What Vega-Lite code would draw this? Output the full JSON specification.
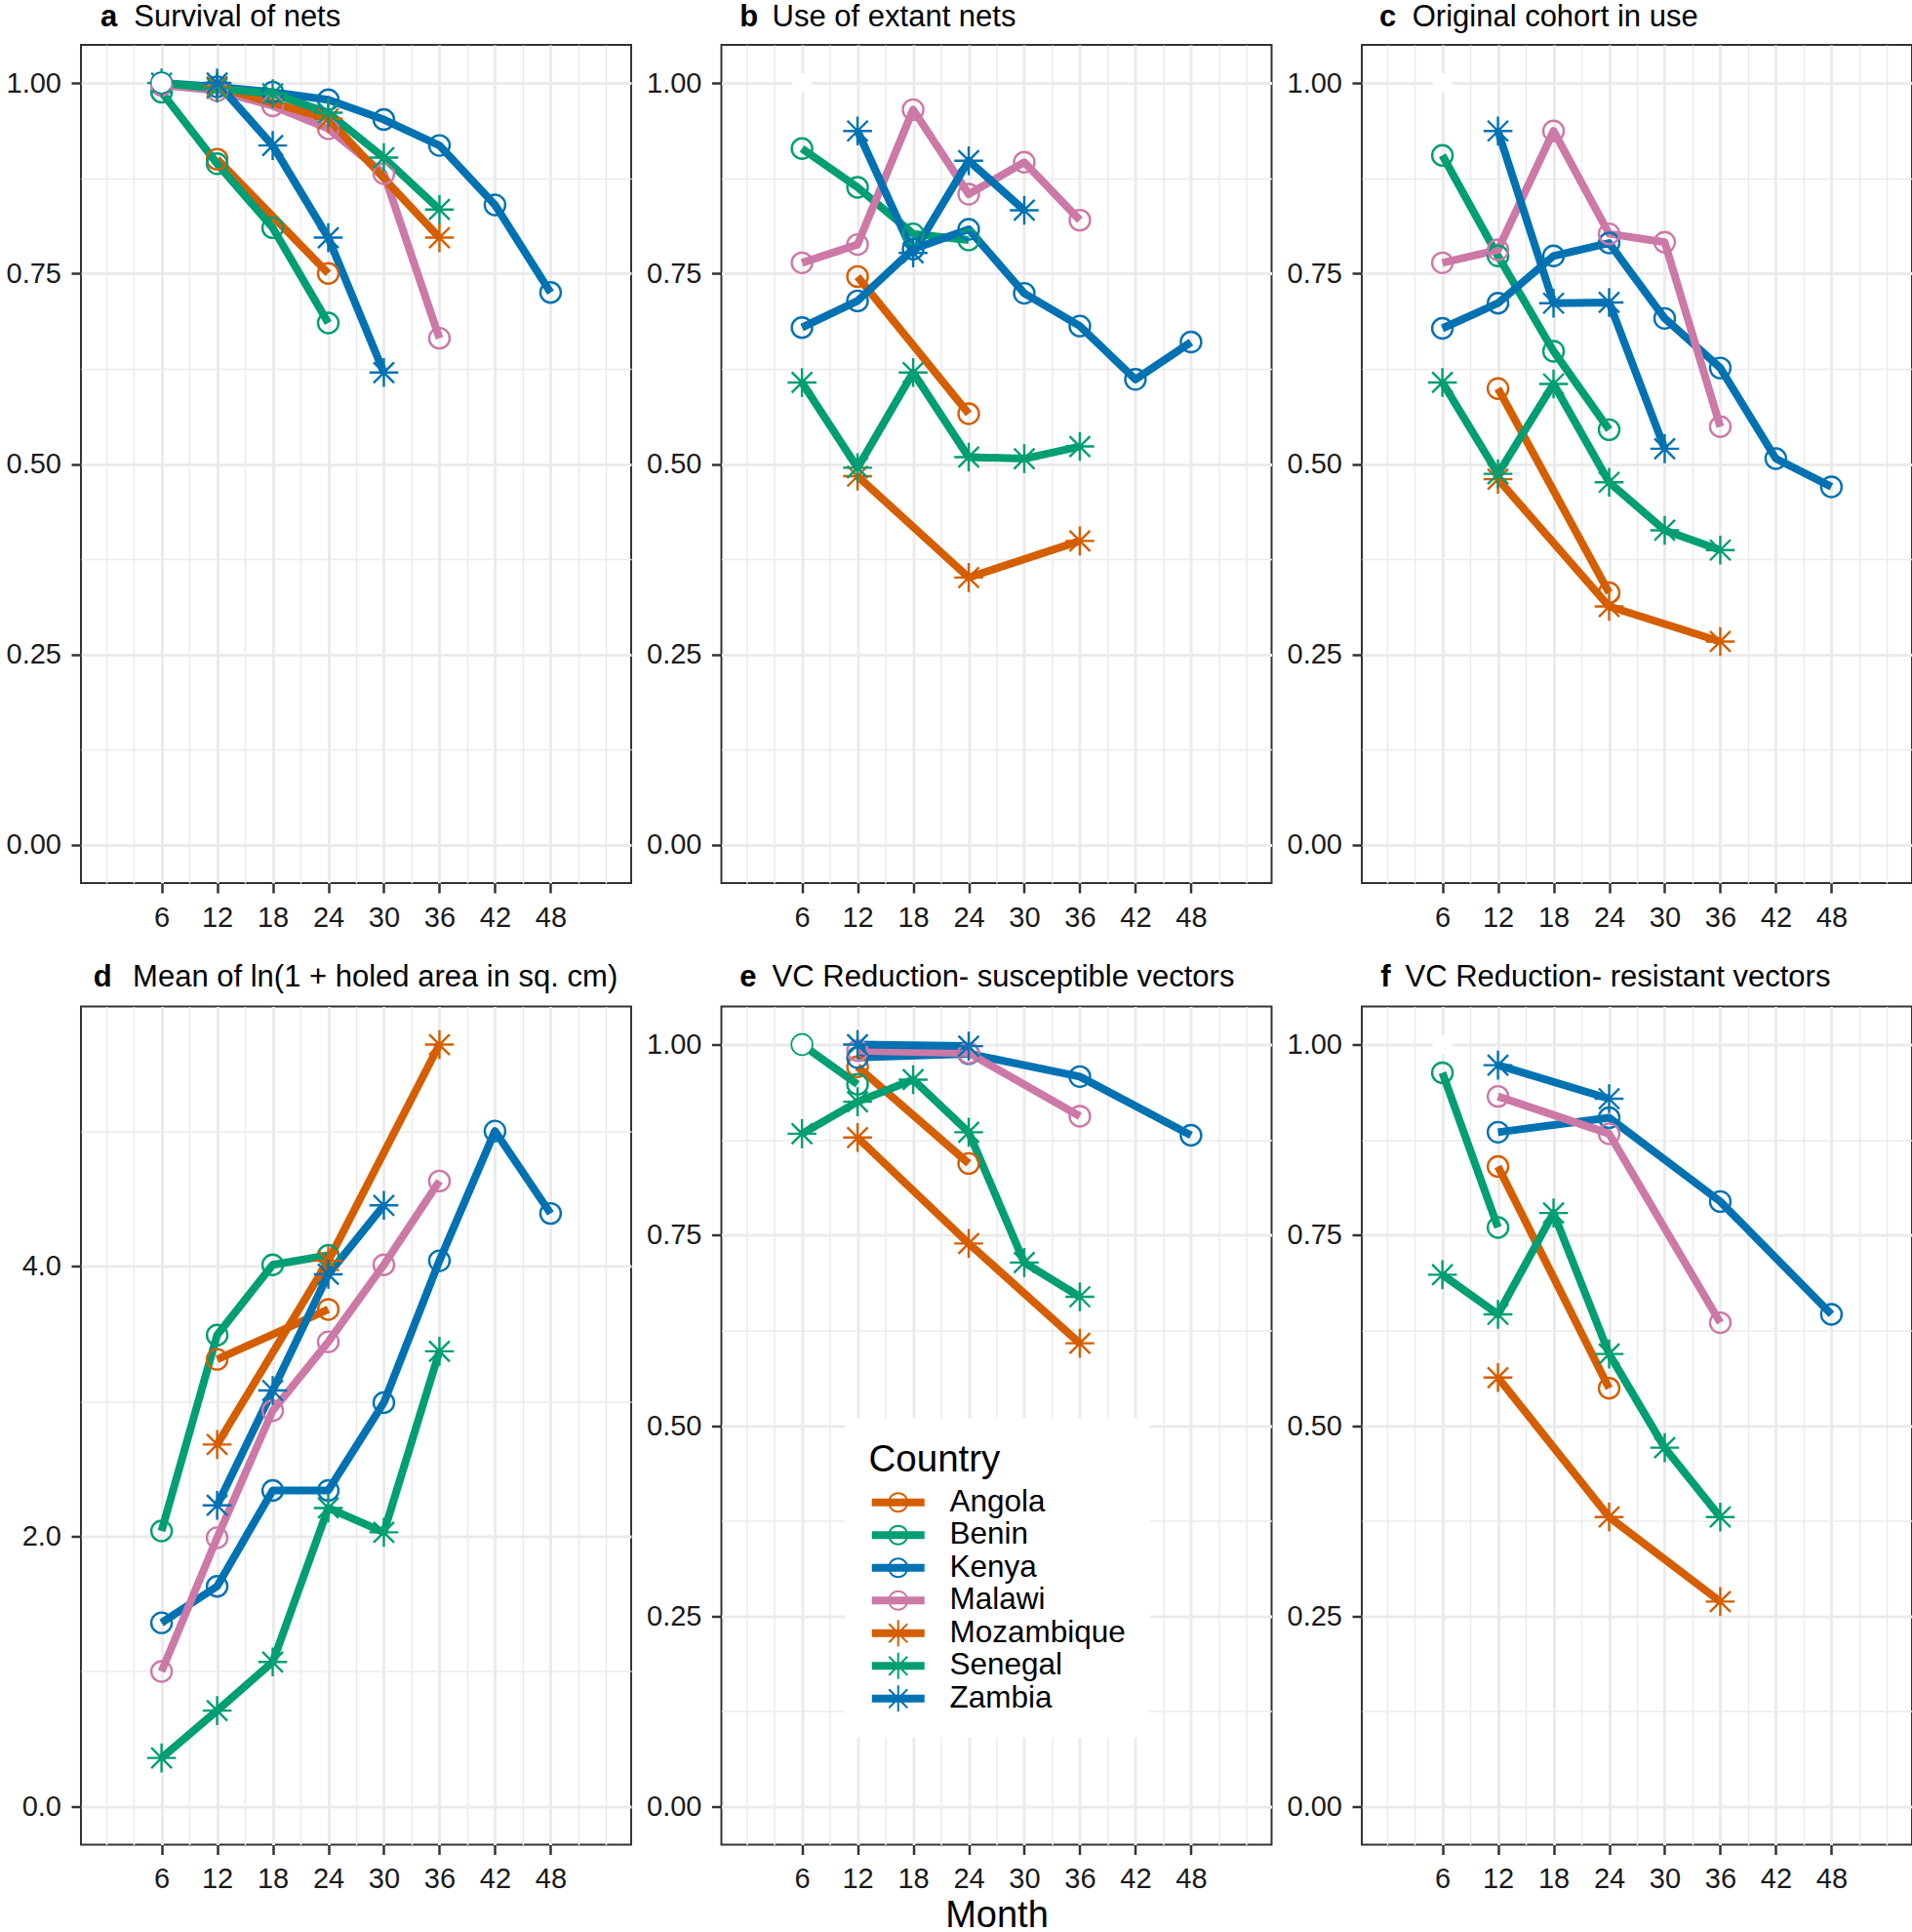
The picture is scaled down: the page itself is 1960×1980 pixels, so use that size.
{
  "$schema": "https://vega.github.io/schema/vega-lite/v6.json",
  "padding": {"left": 5, "top": 0, "right": 0, "bottom": 0},
  "config": {
    "font": "Liberation Sans",
    "view": {"stroke": "#333333", "strokeWidth": 2},
    "axis": {"labelFont": "Liberation Sans", "labelFontSize": 29, "labelColor": "#1A1A1A", "tickColor": "#333333", "tickWidth": 2.5, "tickSize": 10, "domain": false, "gridColor": "#EBEBEB", "titleFont": "Liberation Sans", "titleFontWeight": "normal", "titleColor": "black"},
    "axisX": {"labelPadding": 11},
    "axisY": {"labelPadding": 10.5}
  },
  "datasets": {
    "d": [
      {"Panel":"a","Country":"Angola","Month":12,"Value":0.900},{"Panel":"a","Country":"Angola","Month":24,"Value":0.750},
      {"Panel":"a","Country":"Benin","Month":6,"Value":0.988},{"Panel":"a","Country":"Benin","Month":12,"Value":0.894},{"Panel":"a","Country":"Benin","Month":18,"Value":0.810},{"Panel":"a","Country":"Benin","Month":24,"Value":0.685},
      {"Panel":"a","Country":"Kenya","Month":6,"Value":1.000},{"Panel":"a","Country":"Kenya","Month":12,"Value":0.995},{"Panel":"a","Country":"Kenya","Month":18,"Value":0.988},{"Panel":"a","Country":"Kenya","Month":24,"Value":0.978},{"Panel":"a","Country":"Kenya","Month":30,"Value":0.952},{"Panel":"a","Country":"Kenya","Month":36,"Value":0.918},{"Panel":"a","Country":"Kenya","Month":42,"Value":0.840},{"Panel":"a","Country":"Kenya","Month":48,"Value":0.725},
      {"Panel":"a","Country":"Malawi","Month":6,"Value":0.997},{"Panel":"a","Country":"Malawi","Month":12,"Value":0.990},{"Panel":"a","Country":"Malawi","Month":18,"Value":0.970},{"Panel":"a","Country":"Malawi","Month":24,"Value":0.940},{"Panel":"a","Country":"Malawi","Month":30,"Value":0.881},{"Panel":"a","Country":"Malawi","Month":36,"Value":0.665},
      {"Panel":"a","Country":"Mozambique","Month":12,"Value":0.995},{"Panel":"a","Country":"Mozambique","Month":24,"Value":0.953},{"Panel":"a","Country":"Mozambique","Month":36,"Value":0.797},
      {"Panel":"a","Country":"Senegal","Month":6,"Value":1.000},{"Panel":"a","Country":"Senegal","Month":12,"Value":0.993},{"Panel":"a","Country":"Senegal","Month":18,"Value":0.986},{"Panel":"a","Country":"Senegal","Month":24,"Value":0.961},{"Panel":"a","Country":"Senegal","Month":30,"Value":0.902},{"Panel":"a","Country":"Senegal","Month":36,"Value":0.834},
      {"Panel":"a","Country":"Zambia","Month":12,"Value":1.000},{"Panel":"a","Country":"Zambia","Month":18,"Value":0.918},{"Panel":"a","Country":"Zambia","Month":24,"Value":0.797},{"Panel":"a","Country":"Zambia","Month":30,"Value":0.620},

      {"Panel":"b","Country":"Angola","Month":12,"Value":0.746},{"Panel":"b","Country":"Angola","Month":24,"Value":0.566},
      {"Panel":"b","Country":"Benin","Month":6,"Value":0.914},{"Panel":"b","Country":"Benin","Month":12,"Value":0.863},{"Panel":"b","Country":"Benin","Month":18,"Value":0.802},{"Panel":"b","Country":"Benin","Month":24,"Value":0.794},
      {"Panel":"b","Country":"Kenya","Month":6,"Value":0.679},{"Panel":"b","Country":"Kenya","Month":12,"Value":0.714},{"Panel":"b","Country":"Kenya","Month":18,"Value":0.782},{"Panel":"b","Country":"Kenya","Month":24,"Value":0.808},{"Panel":"b","Country":"Kenya","Month":30,"Value":0.724},{"Panel":"b","Country":"Kenya","Month":36,"Value":0.681},{"Panel":"b","Country":"Kenya","Month":42,"Value":0.611},{"Panel":"b","Country":"Kenya","Month":48,"Value":0.660},
      {"Panel":"b","Country":"Malawi","Month":6,"Value":0.764},{"Panel":"b","Country":"Malawi","Month":12,"Value":0.788},{"Panel":"b","Country":"Malawi","Month":18,"Value":0.965},{"Panel":"b","Country":"Malawi","Month":24,"Value":0.854},{"Panel":"b","Country":"Malawi","Month":30,"Value":0.896},{"Panel":"b","Country":"Malawi","Month":36,"Value":0.820},
      {"Panel":"b","Country":"Mozambique","Month":12,"Value":0.484},{"Panel":"b","Country":"Mozambique","Month":24,"Value":0.351},{"Panel":"b","Country":"Mozambique","Month":36,"Value":0.399},
      {"Panel":"b","Country":"Senegal","Month":6,"Value":0.607},{"Panel":"b","Country":"Senegal","Month":12,"Value":0.495},{"Panel":"b","Country":"Senegal","Month":18,"Value":0.620},{"Panel":"b","Country":"Senegal","Month":24,"Value":0.509},{"Panel":"b","Country":"Senegal","Month":30,"Value":0.507},{"Panel":"b","Country":"Senegal","Month":36,"Value":0.523},
      {"Panel":"b","Country":"Zambia","Month":12,"Value":0.937},{"Panel":"b","Country":"Zambia","Month":18,"Value":0.777},{"Panel":"b","Country":"Zambia","Month":24,"Value":0.898},{"Panel":"b","Country":"Zambia","Month":30,"Value":0.833},

      {"Panel":"c","Country":"Angola","Month":12,"Value":0.599},{"Panel":"c","Country":"Angola","Month":24,"Value":0.331},
      {"Panel":"c","Country":"Benin","Month":6,"Value":0.905},{"Panel":"c","Country":"Benin","Month":12,"Value":0.773},{"Panel":"c","Country":"Benin","Month":18,"Value":0.648},{"Panel":"c","Country":"Benin","Month":24,"Value":0.545},
      {"Panel":"c","Country":"Kenya","Month":6,"Value":0.678},{"Panel":"c","Country":"Kenya","Month":12,"Value":0.711},{"Panel":"c","Country":"Kenya","Month":18,"Value":0.773},{"Panel":"c","Country":"Kenya","Month":24,"Value":0.790},{"Panel":"c","Country":"Kenya","Month":30,"Value":0.691},{"Panel":"c","Country":"Kenya","Month":36,"Value":0.626},{"Panel":"c","Country":"Kenya","Month":42,"Value":0.507},{"Panel":"c","Country":"Kenya","Month":48,"Value":0.470},
      {"Panel":"c","Country":"Malawi","Month":6,"Value":0.764},{"Panel":"c","Country":"Malawi","Month":12,"Value":0.781},{"Panel":"c","Country":"Malawi","Month":18,"Value":0.937},{"Panel":"c","Country":"Malawi","Month":24,"Value":0.802},{"Panel":"c","Country":"Malawi","Month":30,"Value":0.791},{"Panel":"c","Country":"Malawi","Month":36,"Value":0.549},
      {"Panel":"c","Country":"Mozambique","Month":12,"Value":0.480},{"Panel":"c","Country":"Mozambique","Month":24,"Value":0.313},{"Panel":"c","Country":"Mozambique","Month":36,"Value":0.267},
      {"Panel":"c","Country":"Senegal","Month":6,"Value":0.607},{"Panel":"c","Country":"Senegal","Month":12,"Value":0.487},{"Panel":"c","Country":"Senegal","Month":18,"Value":0.605},{"Panel":"c","Country":"Senegal","Month":24,"Value":0.476},{"Panel":"c","Country":"Senegal","Month":30,"Value":0.413},{"Panel":"c","Country":"Senegal","Month":36,"Value":0.387},
      {"Panel":"c","Country":"Zambia","Month":12,"Value":0.937},{"Panel":"c","Country":"Zambia","Month":18,"Value":0.711},{"Panel":"c","Country":"Zambia","Month":24,"Value":0.712},{"Panel":"c","Country":"Zambia","Month":30,"Value":0.520},

      {"Panel":"d","Country":"Angola","Month":12,"Value":3.31},{"Panel":"d","Country":"Angola","Month":24,"Value":3.68},
      {"Panel":"d","Country":"Benin","Month":6,"Value":2.04},{"Panel":"d","Country":"Benin","Month":12,"Value":3.49},{"Panel":"d","Country":"Benin","Month":18,"Value":4.01},{"Panel":"d","Country":"Benin","Month":24,"Value":4.08},
      {"Panel":"d","Country":"Kenya","Month":6,"Value":1.36},{"Panel":"d","Country":"Kenya","Month":12,"Value":1.63},{"Panel":"d","Country":"Kenya","Month":18,"Value":2.34},{"Panel":"d","Country":"Kenya","Month":24,"Value":2.34},{"Panel":"d","Country":"Kenya","Month":30,"Value":2.99},{"Panel":"d","Country":"Kenya","Month":36,"Value":4.04},{"Panel":"d","Country":"Kenya","Month":42,"Value":5.00},{"Panel":"d","Country":"Kenya","Month":48,"Value":4.39},
      {"Panel":"d","Country":"Malawi","Month":6,"Value":1.00},{"Panel":"d","Country":"Malawi","Month":12,"Value":1.99},{"Panel":"d","Country":"Malawi","Month":18,"Value":2.93},{"Panel":"d","Country":"Malawi","Month":24,"Value":3.44},{"Panel":"d","Country":"Malawi","Month":30,"Value":4.01},{"Panel":"d","Country":"Malawi","Month":36,"Value":4.63},
      {"Panel":"d","Country":"Mozambique","Month":12,"Value":2.68},{"Panel":"d","Country":"Mozambique","Month":24,"Value":4.04},{"Panel":"d","Country":"Mozambique","Month":36,"Value":5.64},
      {"Panel":"d","Country":"Senegal","Month":6,"Value":0.36},{"Panel":"d","Country":"Senegal","Month":12,"Value":0.71},{"Panel":"d","Country":"Senegal","Month":18,"Value":1.07},{"Panel":"d","Country":"Senegal","Month":24,"Value":2.21},{"Panel":"d","Country":"Senegal","Month":30,"Value":2.03},{"Panel":"d","Country":"Senegal","Month":36,"Value":3.37},
      {"Panel":"d","Country":"Zambia","Month":12,"Value":2.23},{"Panel":"d","Country":"Zambia","Month":18,"Value":3.08},{"Panel":"d","Country":"Zambia","Month":24,"Value":3.94},{"Panel":"d","Country":"Zambia","Month":30,"Value":4.45},

      {"Panel":"e","Country":"Angola","Month":12,"Value":0.971},{"Panel":"e","Country":"Angola","Month":24,"Value":0.844},
      {"Panel":"e","Country":"Benin","Month":6,"Value":1.000},{"Panel":"e","Country":"Benin","Month":12,"Value":0.948},
      {"Panel":"e","Country":"Kenya","Month":12,"Value":0.983},{"Panel":"e","Country":"Kenya","Month":24,"Value":0.988},{"Panel":"e","Country":"Kenya","Month":36,"Value":0.958},{"Panel":"e","Country":"Kenya","Month":48,"Value":0.881},
      {"Panel":"e","Country":"Malawi","Month":12,"Value":0.992},{"Panel":"e","Country":"Malawi","Month":24,"Value":0.989},{"Panel":"e","Country":"Malawi","Month":36,"Value":0.906},
      {"Panel":"e","Country":"Mozambique","Month":12,"Value":0.878},{"Panel":"e","Country":"Mozambique","Month":24,"Value":0.739},{"Panel":"e","Country":"Mozambique","Month":36,"Value":0.608},
      {"Panel":"e","Country":"Senegal","Month":6,"Value":0.883},{"Panel":"e","Country":"Senegal","Month":12,"Value":0.925},{"Panel":"e","Country":"Senegal","Month":18,"Value":0.954},{"Panel":"e","Country":"Senegal","Month":24,"Value":0.885},{"Panel":"e","Country":"Senegal","Month":30,"Value":0.714},{"Panel":"e","Country":"Senegal","Month":36,"Value":0.669},
      {"Panel":"e","Country":"Zambia","Month":12,"Value":1.000},{"Panel":"e","Country":"Zambia","Month":24,"Value":0.998},

      {"Panel":"f","Country":"Angola","Month":12,"Value":0.840},{"Panel":"f","Country":"Angola","Month":24,"Value":0.549},
      {"Panel":"f","Country":"Benin","Month":6,"Value":0.963},{"Panel":"f","Country":"Benin","Month":12,"Value":0.760},
      {"Panel":"f","Country":"Kenya","Month":12,"Value":0.885},{"Panel":"f","Country":"Kenya","Month":24,"Value":0.904},{"Panel":"f","Country":"Kenya","Month":36,"Value":0.794},{"Panel":"f","Country":"Kenya","Month":48,"Value":0.646},
      {"Panel":"f","Country":"Malawi","Month":12,"Value":0.932},{"Panel":"f","Country":"Malawi","Month":24,"Value":0.883},{"Panel":"f","Country":"Malawi","Month":36,"Value":0.635},
      {"Panel":"f","Country":"Mozambique","Month":12,"Value":0.563},{"Panel":"f","Country":"Mozambique","Month":24,"Value":0.380},{"Panel":"f","Country":"Mozambique","Month":36,"Value":0.269},
      {"Panel":"f","Country":"Senegal","Month":6,"Value":0.698},{"Panel":"f","Country":"Senegal","Month":12,"Value":0.646},{"Panel":"f","Country":"Senegal","Month":18,"Value":0.779},{"Panel":"f","Country":"Senegal","Month":24,"Value":0.594},{"Panel":"f","Country":"Senegal","Month":30,"Value":0.471},{"Panel":"f","Country":"Senegal","Month":36,"Value":0.380},
      {"Panel":"f","Country":"Zambia","Month":12,"Value":0.973},{"Panel":"f","Country":"Zambia","Month":24,"Value":0.929}
    ],
    "m": [
      {"Panel":"a","Month":6,"Value":1},{"Panel":"b","Month":6,"Value":1},{"Panel":"c","Month":6,"Value":1},{"Panel":"e","Month":6,"Value":1},{"Panel":"f","Month":6,"Value":1}
    ]
  },
  "columns": 3,
  "bounds": "flush",
  "spacing": {"row": 126.5, "column": 92.5},
  "resolve": {"scale": {"shape": "independent", "fill": "independent"}, "legend": {"color": "independent", "shape": "independent", "fill": "independent"}},
  "concat": [
    {
      "width": 564, "height": 859,
      "resolve": {"axis": {"x": "independent", "y": "independent"}},
      "layer": [
        {"data": {"name": "d"}, "transform": [{"filter": "datum.Panel === 'a'"}],
         "mark": {"type": "line", "strokeWidth": 8, "strokeJoin": "round", "strokeCap": "butt"},
         "encoding": {
           "x": {"field": "Month", "type": "quantitative", "scale": {"domain": [-2.7, 56.7], "nice": false, "zero": false}, "axis": {"orient": "bottom", "values": [6,12,18,24,30,36,42,48], "grid": true, "gridWidth": 3, "ticks": true, "title": null}},
           "y": {"field": "Value", "type": "quantitative", "scale": {"domain": [-0.05, 1.05], "nice": false, "zero": false}, "axis": {"orient": "left", "values": [0,0.25,0.5,0.75,1], "format": ".2f", "grid": true, "gridWidth": 3, "ticks": true, "title": "a", "titleAngle": 0, "titleX": 19.5, "titleY": -19.6, "titleAlign": "left", "titleBaseline": "alphabetic", "titleFontSize": 31, "titleFontWeight": "bold"}},
           "color": {"field": "Country", "type": "nominal", "scale": {"domain": ["Angola","Benin","Kenya","Malawi","Mozambique","Senegal","Zambia"], "range": ["#D55E00","#009E73","#0072B2","#CC79A7","#D55E00","#009E73","#0072B2"]}, "legend": null}
         }},
        {"data": {"name": "d"}, "transform": [{"filter": "datum.Panel === 'a'"}],
         "mark": {"type": "point", "filled": false, "size": 441, "strokeWidth": 2.4, "opacity": 1},
         "encoding": {
           "x": {"field": "Month", "type": "quantitative", "axis": {"orient": "top", "values": [0,3,9,15,21,27,33,39,45,51,54], "grid": true, "gridWidth": 1.5, "ticks": false, "labels": false, "title": "Survival of nets", "titleAngle": 0, "titleX": 53.8, "titleY": -19.6, "titleAlign": "left", "titleBaseline": "alphabetic", "titleFontSize": 31}},
           "y": {"field": "Value", "type": "quantitative", "axis": {"orient": "right", "values": [0.125,0.375,0.625,0.875], "grid": true, "gridWidth": 1.5, "ticks": false, "labels": false, "title": null}},
           "color": {"field": "Country", "type": "nominal", "legend": null},
           "shape": {"field": "Country", "type": "nominal", "scale": {"domain": ["Angola","Benin","Kenya","Malawi","Mozambique","Senegal","Zambia"], "range": ["circle","circle","circle","circle","M0,-1.41L0,1.41M-1.41,0L1.41,0M-1,-1L1,1M-1,1L1,-1","M0,-1.41L0,1.41M-1.41,0L1.41,0M-1,-1L1,1M-1,1L1,-1","M0,-1.41L0,1.41M-1.41,0L1.41,0M-1,-1L1,1M-1,1L1,-1"]}, "legend": null}
         }},
        {"data": {"name": "m"}, "transform": [{"filter": "datum.Panel === 'a'"}],
         "mark": {"type": "point", "shape": "circle", "filled": true, "color": "white", "size": 400, "opacity": 1},
         "encoding": {
           "x": {"field": "Month", "type": "quantitative", "axis": null},
           "y": {"field": "Value", "type": "quantitative", "axis": null}
         }}
      ]
    },
    {
      "width": 564, "height": 859,
      "resolve": {"axis": {"x": "independent", "y": "independent"}},
      "layer": [
        {"data": {"name": "d"}, "transform": [{"filter": "datum.Panel === 'b'"}],
         "mark": {"type": "line", "strokeWidth": 8, "strokeJoin": "round", "strokeCap": "butt"},
         "encoding": {
           "x": {"field": "Month", "type": "quantitative", "scale": {"domain": [-2.7, 56.7], "nice": false, "zero": false}, "axis": {"orient": "bottom", "values": [6,12,18,24,30,36,42,48], "grid": true, "gridWidth": 3, "ticks": true, "title": null}},
           "y": {"field": "Value", "type": "quantitative", "scale": {"domain": [-0.05, 1.05], "nice": false, "zero": false}, "axis": {"orient": "left", "values": [0,0.25,0.5,0.75,1], "format": ".2f", "grid": true, "gridWidth": 3, "ticks": true, "title": "b", "titleAngle": 0, "titleX": 18.2, "titleY": -19.6, "titleAlign": "left", "titleBaseline": "alphabetic", "titleFontSize": 31, "titleFontWeight": "bold"}},
           "color": {"field": "Country", "type": "nominal", "scale": {"domain": ["Angola","Benin","Kenya","Malawi","Mozambique","Senegal","Zambia"], "range": ["#D55E00","#009E73","#0072B2","#CC79A7","#D55E00","#009E73","#0072B2"]}, "legend": null}
         }},
        {"data": {"name": "d"}, "transform": [{"filter": "datum.Panel === 'b'"}],
         "mark": {"type": "point", "filled": false, "size": 441, "strokeWidth": 2.4, "opacity": 1},
         "encoding": {
           "x": {"field": "Month", "type": "quantitative", "axis": {"orient": "top", "values": [0,3,9,15,21,27,33,39,45,51,54], "grid": true, "gridWidth": 1.5, "ticks": false, "labels": false, "title": "Use of extant nets", "titleAngle": 0, "titleX": 51.6, "titleY": -19.6, "titleAlign": "left", "titleBaseline": "alphabetic", "titleFontSize": 31}},
           "y": {"field": "Value", "type": "quantitative", "axis": {"orient": "right", "values": [0.125,0.375,0.625,0.875], "grid": true, "gridWidth": 1.5, "ticks": false, "labels": false, "title": null}},
           "color": {"field": "Country", "type": "nominal", "legend": null},
           "shape": {"field": "Country", "type": "nominal", "scale": {"domain": ["Angola","Benin","Kenya","Malawi","Mozambique","Senegal","Zambia"], "range": ["circle","circle","circle","circle","M0,-1.41L0,1.41M-1.41,0L1.41,0M-1,-1L1,1M-1,1L1,-1","M0,-1.41L0,1.41M-1.41,0L1.41,0M-1,-1L1,1M-1,1L1,-1","M0,-1.41L0,1.41M-1.41,0L1.41,0M-1,-1L1,1M-1,1L1,-1"]}, "legend": null}
         }},
        {"data": {"name": "m"}, "transform": [{"filter": "datum.Panel === 'b'"}],
         "mark": {"type": "point", "shape": "circle", "filled": true, "color": "white", "size": 400, "opacity": 1},
         "encoding": {
           "x": {"field": "Month", "type": "quantitative", "axis": null},
           "y": {"field": "Value", "type": "quantitative", "axis": null}
         }}
      ]
    },
    {
      "width": 564, "height": 859,
      "resolve": {"axis": {"x": "independent", "y": "independent"}},
      "layer": [
        {"data": {"name": "d"}, "transform": [{"filter": "datum.Panel === 'c'"}],
         "mark": {"type": "line", "strokeWidth": 8, "strokeJoin": "round", "strokeCap": "butt"},
         "encoding": {
           "x": {"field": "Month", "type": "quantitative", "scale": {"domain": [-2.7, 56.7], "nice": false, "zero": false}, "axis": {"orient": "bottom", "values": [6,12,18,24,30,36,42,48], "grid": true, "gridWidth": 3, "ticks": true, "title": null}},
           "y": {"field": "Value", "type": "quantitative", "scale": {"domain": [-0.05, 1.05], "nice": false, "zero": false}, "axis": {"orient": "left", "values": [0,0.25,0.5,0.75,1], "format": ".2f", "grid": true, "gridWidth": 3, "ticks": true, "title": "c", "titleAngle": 0, "titleX": 17.5, "titleY": -19.6, "titleAlign": "left", "titleBaseline": "alphabetic", "titleFontSize": 31, "titleFontWeight": "bold"}},
           "color": {"field": "Country", "type": "nominal", "scale": {"domain": ["Angola","Benin","Kenya","Malawi","Mozambique","Senegal","Zambia"], "range": ["#D55E00","#009E73","#0072B2","#CC79A7","#D55E00","#009E73","#0072B2"]}, "legend": null}
         }},
        {"data": {"name": "d"}, "transform": [{"filter": "datum.Panel === 'c'"}],
         "mark": {"type": "point", "filled": false, "size": 441, "strokeWidth": 2.4, "opacity": 1},
         "encoding": {
           "x": {"field": "Month", "type": "quantitative", "axis": {"orient": "top", "values": [0,3,9,15,21,27,33,39,45,51,54], "grid": true, "gridWidth": 1.5, "ticks": false, "labels": false, "title": "Original cohort in use", "titleAngle": 0, "titleX": 51.2, "titleY": -19.6, "titleAlign": "left", "titleBaseline": "alphabetic", "titleFontSize": 31}},
           "y": {"field": "Value", "type": "quantitative", "axis": {"orient": "right", "values": [0.125,0.375,0.625,0.875], "grid": true, "gridWidth": 1.5, "ticks": false, "labels": false, "title": null}},
           "color": {"field": "Country", "type": "nominal", "legend": null},
           "shape": {"field": "Country", "type": "nominal", "scale": {"domain": ["Angola","Benin","Kenya","Malawi","Mozambique","Senegal","Zambia"], "range": ["circle","circle","circle","circle","M0,-1.41L0,1.41M-1.41,0L1.41,0M-1,-1L1,1M-1,1L1,-1","M0,-1.41L0,1.41M-1.41,0L1.41,0M-1,-1L1,1M-1,1L1,-1","M0,-1.41L0,1.41M-1.41,0L1.41,0M-1,-1L1,1M-1,1L1,-1"]}, "legend": null}
         }},
        {"data": {"name": "m"}, "transform": [{"filter": "datum.Panel === 'c'"}],
         "mark": {"type": "point", "shape": "circle", "filled": true, "color": "white", "size": 400, "opacity": 1},
         "encoding": {
           "x": {"field": "Month", "type": "quantitative", "axis": null},
           "y": {"field": "Value", "type": "quantitative", "axis": null}
         }}
      ]
    },
    {
      "width": 564, "height": 859,
      "resolve": {"axis": {"x": "independent", "y": "independent"}},
      "layer": [
        {"data": {"name": "d"}, "transform": [{"filter": "datum.Panel === 'd'"}],
         "mark": {"type": "line", "strokeWidth": 8, "strokeJoin": "round", "strokeCap": "butt"},
         "encoding": {
           "x": {"field": "Month", "type": "quantitative", "scale": {"domain": [-2.7, 56.7], "nice": false, "zero": false}, "axis": {"orient": "bottom", "values": [6,12,18,24,30,36,42,48], "grid": true, "gridWidth": 3, "ticks": true, "title": null}},
           "y": {"field": "Value", "type": "quantitative", "scale": {"domain": [-0.282, 5.922], "nice": false, "zero": false}, "axis": {"orient": "left", "values": [0,2,4], "format": ".1f", "grid": true, "gridWidth": 3, "ticks": true, "title": "d", "titleAngle": 0, "titleX": 12.2, "titleY": -20.8, "titleAlign": "left", "titleBaseline": "alphabetic", "titleFontSize": 31, "titleFontWeight": "bold"}},
           "color": {"field": "Country", "type": "nominal", "scale": {"domain": ["Angola","Benin","Kenya","Malawi","Mozambique","Senegal","Zambia"], "range": ["#D55E00","#009E73","#0072B2","#CC79A7","#D55E00","#009E73","#0072B2"]}, "legend": null}
         }},
        {"data": {"name": "d"}, "transform": [{"filter": "datum.Panel === 'd'"}],
         "mark": {"type": "point", "filled": false, "size": 441, "strokeWidth": 2.4, "opacity": 1},
         "encoding": {
           "x": {"field": "Month", "type": "quantitative", "axis": {"orient": "top", "values": [0,3,9,15,21,27,33,39,45,51,54], "grid": true, "gridWidth": 1.5, "ticks": false, "labels": false, "title": "Mean of ln(1 + holed area in sq. cm)", "titleAngle": 0, "titleX": 52.6, "titleY": -20.8, "titleAlign": "left", "titleBaseline": "alphabetic", "titleFontSize": 31}},
           "y": {"field": "Value", "type": "quantitative", "axis": {"orient": "right", "values": [1,3,5], "grid": true, "gridWidth": 1.5, "ticks": false, "labels": false, "title": null}},
           "color": {"field": "Country", "type": "nominal", "legend": null},
           "shape": {"field": "Country", "type": "nominal", "scale": {"domain": ["Angola","Benin","Kenya","Malawi","Mozambique","Senegal","Zambia"], "range": ["circle","circle","circle","circle","M0,-1.41L0,1.41M-1.41,0L1.41,0M-1,-1L1,1M-1,1L1,-1","M0,-1.41L0,1.41M-1.41,0L1.41,0M-1,-1L1,1M-1,1L1,-1","M0,-1.41L0,1.41M-1.41,0L1.41,0M-1,-1L1,1M-1,1L1,-1"]}, "legend": null}
         }}
      ]
    },
    {
      "width": 564, "height": 859,
      "resolve": {"axis": {"x": "independent", "y": "independent"}, "scale": {"shape": "independent", "fill": "independent"}, "legend": {"shape": "independent", "fill": "independent"}},
      "layer": [
        {"data": {"name": "d"}, "transform": [{"filter": "datum.Panel === 'e'"}],
         "mark": {"type": "line", "strokeWidth": 8, "strokeJoin": "round", "strokeCap": "butt"},
         "encoding": {
           "x": {"field": "Month", "type": "quantitative", "scale": {"domain": [-2.7, 56.7], "nice": false, "zero": false}, "axis": {"orient": "bottom", "values": [6,12,18,24,30,36,42,48], "grid": true, "gridWidth": 3, "ticks": true, "title": "Month", "titleFontSize": 38, "titlePadding": 4}},
           "y": {"field": "Value", "type": "quantitative", "scale": {"domain": [-0.05, 1.05], "nice": false, "zero": false}, "axis": {"orient": "left", "values": [0,0.25,0.5,0.75,1], "format": ".2f", "grid": true, "gridWidth": 3, "ticks": true, "title": "e", "titleAngle": 0, "titleX": 18.2, "titleY": -20.8, "titleAlign": "left", "titleBaseline": "alphabetic", "titleFontSize": 31, "titleFontWeight": "bold"}},
           "color": {"field": "Country", "type": "nominal", "scale": {"domain": ["Angola","Benin","Kenya","Malawi","Mozambique","Senegal","Zambia"], "range": ["#D55E00","#009E73","#0072B2","#CC79A7","#D55E00","#009E73","#0072B2"]}, "legend": null}
         }},
        {"data": {"name": "d"}, "transform": [{"filter": "datum.Panel === 'e'"}],
         "mark": {"type": "point", "filled": false, "size": 441, "strokeWidth": 2.4, "opacity": 1},
         "encoding": {
           "x": {"field": "Month", "type": "quantitative", "axis": {"orient": "top", "values": [0,3,9,15,21,27,33,39,45,51,54], "grid": true, "gridWidth": 1.5, "ticks": false, "labels": false, "title": "VC Reduction- susceptible vectors", "titleAngle": 0, "titleX": 51.6, "titleY": -20.8, "titleAlign": "left", "titleBaseline": "alphabetic", "titleFontSize": 31}},
           "y": {"field": "Value", "type": "quantitative", "axis": {"orient": "right", "values": [0.125,0.375,0.625,0.875], "grid": true, "gridWidth": 1.5, "ticks": false, "labels": false, "title": null}},
           "color": {"field": "Country", "type": "nominal", "legend": null},
           "shape": {"field": "Country", "type": "nominal", "scale": {"domain": ["Angola","Benin","Kenya","Malawi","Mozambique","Senegal","Zambia"], "range": ["circle","circle","circle","circle","M0,-1.41L0,1.41M-1.41,0L1.41,0M-1,-1L1,1M-1,1L1,-1","M0,-1.41L0,1.41M-1.41,0L1.41,0M-1,-1L1,1M-1,1L1,-1","M0,-1.41L0,1.41M-1.41,0L1.41,0M-1,-1L1,1M-1,1L1,-1"]}, "legend": null}
         }},
        {"data": {"name": "m"}, "transform": [{"filter": "datum.Panel === 'e'"}],
         "mark": {"type": "point", "shape": "circle", "filled": true, "color": "white", "size": 400, "opacity": 1},
         "encoding": {
           "x": {"field": "Month", "type": "quantitative", "axis": null},
           "y": {"field": "Value", "type": "quantitative", "axis": null}
         }},
        {"data": {"name": "d"}, "transform": [{"filter": "datum.Panel === 'e'"}],
         "mark": {"type": "point", "filled": true, "size": 0, "opacity": 1, "strokeWidth": 0},
         "encoding": {
           "x": {"field": "Month", "type": "quantitative", "axis": null},
           "y": {"field": "Value", "type": "quantitative", "axis": null},
           "fill": {"field": "Country", "type": "nominal", "scale": {"domain": ["Angola","Benin","Kenya","Malawi","Mozambique","Senegal","Zambia"], "range": ["#D55E00","#009E73","#0072B2","#CC79A7","#D55E00","#009E73","#0072B2"]},
             "legend": {"orient": "none", "legendX": 127, "legendY": 422, "title": "Country", "titleFont": "Liberation Sans", "titleFontSize": 38.5, "titleFontWeight": "normal", "titleColor": "black", "titlePadding": 8, "labelFont": "Liberation Sans", "labelFontSize": 31.5, "labelColor": "black", "labelLimit": 0, "padding": 24, "fillColor": "white", "symbolSize": 361, "symbolOffset": 14.5, "labelOffset": 37, "rowPadding": 0.5, "symbolStrokeWidth": 0, "symbolOpacity": 1}},
           "shape": {"field": "Country", "type": "nominal", "scale": {"domain": ["Angola","Benin","Kenya","Malawi","Mozambique","Senegal","Zambia"], "range": [
               "M-2.84,-0.42L2.84,-0.42L2.84,0.42L-2.84,0.42Z M1.105,0A1.105,1.105,0,1,1,-1.105,0A1.105,1.105,0,1,1,1.105,0Z M0.895,0A0.895,0.895,0,1,0,-0.895,0A0.895,0.895,0,1,0,0.895,0Z",
               "M-2.84,-0.42L2.84,-0.42L2.84,0.42L-2.84,0.42Z M1.105,0A1.105,1.105,0,1,1,-1.105,0A1.105,1.105,0,1,1,1.105,0Z M0.895,0A0.895,0.895,0,1,0,-0.895,0A0.895,0.895,0,1,0,0.895,0Z",
               "M-2.84,-0.42L2.84,-0.42L2.84,0.42L-2.84,0.42Z M1.105,0A1.105,1.105,0,1,1,-1.105,0A1.105,1.105,0,1,1,1.105,0Z M0.895,0A0.895,0.895,0,1,0,-0.895,0A0.895,0.895,0,1,0,0.895,0Z",
               "M-2.84,-0.42L2.84,-0.42L2.84,0.42L-2.84,0.42Z M1.105,0A1.105,1.105,0,1,1,-1.105,0A1.105,1.105,0,1,1,1.105,0Z M0.895,0A0.895,0.895,0,1,0,-0.895,0A0.895,0.895,0,1,0,0.895,0Z",
               "M-2.84,-0.42L2.84,-0.42L2.84,0.42L-2.84,0.42Z M-0.105,-1.41L0.105,-1.41L0.105,1.41L-0.105,1.41Z M-0.926,-1.074L1.074,0.926L0.926,1.074L-1.074,-0.926Z M-1.074,0.926L0.926,-1.074L1.074,-0.926L-0.926,1.074Z",
               "M-2.84,-0.42L2.84,-0.42L2.84,0.42L-2.84,0.42Z M-0.105,-1.41L0.105,-1.41L0.105,1.41L-0.105,1.41Z M-0.926,-1.074L1.074,0.926L0.926,1.074L-1.074,-0.926Z M-1.074,0.926L0.926,-1.074L1.074,-0.926L-0.926,1.074Z",
               "M-2.84,-0.42L2.84,-0.42L2.84,0.42L-2.84,0.42Z M-0.105,-1.41L0.105,-1.41L0.105,1.41L-0.105,1.41Z M-0.926,-1.074L1.074,0.926L0.926,1.074L-1.074,-0.926Z M-1.074,0.926L0.926,-1.074L1.074,-0.926L-0.926,1.074Z"]},
             "legend": {"orient": "none", "legendX": 127, "legendY": 422, "title": "Country", "titleFont": "Liberation Sans", "titleFontSize": 38.5, "titleFontWeight": "normal", "titleColor": "black", "titlePadding": 8, "labelFont": "Liberation Sans", "labelFontSize": 31.5, "labelColor": "black", "labelLimit": 0, "padding": 24, "fillColor": "white", "symbolSize": 361, "symbolOffset": 14.5, "labelOffset": 37, "rowPadding": 0.5, "symbolStrokeWidth": 0, "symbolOpacity": 1}}
         }}
      ]
    },
    {
      "width": 564, "height": 859,
      "resolve": {"axis": {"x": "independent", "y": "independent"}},
      "layer": [
        {"data": {"name": "d"}, "transform": [{"filter": "datum.Panel === 'f'"}],
         "mark": {"type": "line", "strokeWidth": 8, "strokeJoin": "round", "strokeCap": "butt"},
         "encoding": {
           "x": {"field": "Month", "type": "quantitative", "scale": {"domain": [-2.7, 56.7], "nice": false, "zero": false}, "axis": {"orient": "bottom", "values": [6,12,18,24,30,36,42,48], "grid": true, "gridWidth": 3, "ticks": true, "title": null}},
           "y": {"field": "Value", "type": "quantitative", "scale": {"domain": [-0.05, 1.05], "nice": false, "zero": false}, "axis": {"orient": "left", "values": [0,0.25,0.5,0.75,1], "format": ".2f", "grid": true, "gridWidth": 3, "ticks": true, "title": "f", "titleAngle": 0, "titleX": 18.8, "titleY": -20.8, "titleAlign": "left", "titleBaseline": "alphabetic", "titleFontSize": 31, "titleFontWeight": "bold"}},
           "color": {"field": "Country", "type": "nominal", "scale": {"domain": ["Angola","Benin","Kenya","Malawi","Mozambique","Senegal","Zambia"], "range": ["#D55E00","#009E73","#0072B2","#CC79A7","#D55E00","#009E73","#0072B2"]}, "legend": null}
         }},
        {"data": {"name": "d"}, "transform": [{"filter": "datum.Panel === 'f'"}],
         "mark": {"type": "point", "filled": false, "size": 441, "strokeWidth": 2.4, "opacity": 1},
         "encoding": {
           "x": {"field": "Month", "type": "quantitative", "axis": {"orient": "top", "values": [0,3,9,15,21,27,33,39,45,51,54], "grid": true, "gridWidth": 1.5, "ticks": false, "labels": false, "title": "VC Reduction- resistant vectors", "titleAngle": 0, "titleX": 44, "titleY": -20.8, "titleAlign": "left", "titleBaseline": "alphabetic", "titleFontSize": 31}},
           "y": {"field": "Value", "type": "quantitative", "axis": {"orient": "right", "values": [0.125,0.375,0.625,0.875], "grid": true, "gridWidth": 1.5, "ticks": false, "labels": false, "title": null}},
           "color": {"field": "Country", "type": "nominal", "legend": null},
           "shape": {"field": "Country", "type": "nominal", "scale": {"domain": ["Angola","Benin","Kenya","Malawi","Mozambique","Senegal","Zambia"], "range": ["circle","circle","circle","circle","M0,-1.41L0,1.41M-1.41,0L1.41,0M-1,-1L1,1M-1,1L1,-1","M0,-1.41L0,1.41M-1.41,0L1.41,0M-1,-1L1,1M-1,1L1,-1","M0,-1.41L0,1.41M-1.41,0L1.41,0M-1,-1L1,1M-1,1L1,-1"]}, "legend": null}
         }},
        {"data": {"name": "m"}, "transform": [{"filter": "datum.Panel === 'f'"}],
         "mark": {"type": "point", "shape": "circle", "filled": true, "color": "white", "size": 400, "opacity": 1},
         "encoding": {
           "x": {"field": "Month", "type": "quantitative", "axis": null},
           "y": {"field": "Value", "type": "quantitative", "axis": null}
         }}
      ]
    }
  ]
}
